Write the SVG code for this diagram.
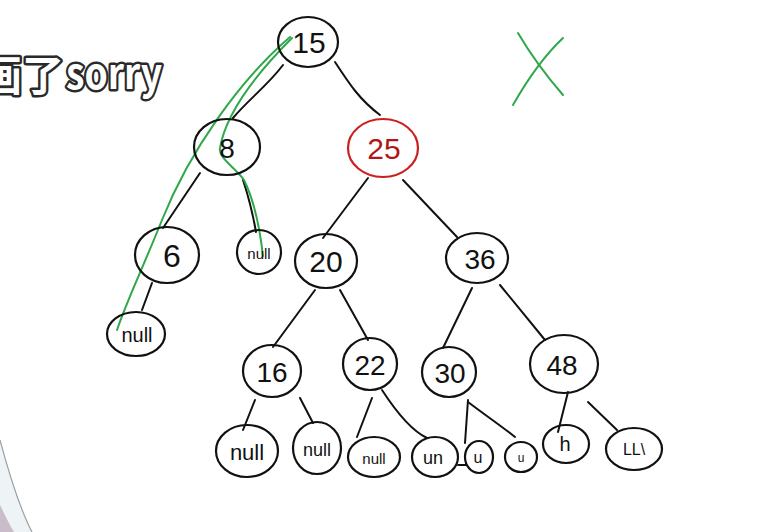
<svg xmlns="http://www.w3.org/2000/svg" width="783" height="532" viewBox="0 0 783 532">
<style>
.n{fill:none;stroke:#111;stroke-width:2.2}
.r{fill:none;stroke:#cc1f1f;stroke-width:2.2}
.e{fill:none;stroke:#111;stroke-width:2;stroke-linecap:round}
.g{fill:none;stroke:#2fa84a;stroke-width:2;stroke-linecap:round}
.t{font-family:"Liberation Sans","DejaVu Sans",sans-serif;fill:#111;text-anchor:middle}
.tr{font-family:"Liberation Sans","DejaVu Sans",sans-serif;fill:#b01818;text-anchor:middle}
.cap{font-family:"Noto Sans CJK SC","Liberation Sans",sans-serif;font-weight:bold;font-size:42px;fill:#fff;stroke:#2a2a2a;stroke-width:5;stroke-linejoin:round;paint-order:stroke}
</style>
<rect width="783" height="532" fill="#fff"/>
<g id="corner">
<path d="M0,532 L0,440 C8,470 18,505 32,532 Z" fill="#eef3f5"/>
<path d="M0,440 C8,470 18,505 32,532" fill="none" stroke="#9aa0a4" stroke-width="1.2"/>
<path d="M0,505 C5,515 9,524 14,532 L0,532 Z" fill="#c9bccb"/>
</g>
<g id="caption">
<text class="cap" x="-20" y="91">画了</text>
<text class="cap" x="66" y="89" textLength="96" lengthAdjust="spacingAndGlyphs">sorry</text>
</g>
<g id="connectors">
<path class="e" d="M283,65 C268,85 248,100 233,118"/>
<path class="e" d="M335,62 C350,85 360,100 380,115"/>
<path class="e" d="M200,173 L163,228"/>
<path class="e" d="M243,180 C248,195 253,215 256,232"/>
<path class="e" d="M152,283 L142,310"/>
<path class="e" d="M368,178 L323,238"/>
<path class="e" d="M403,180 L457,237"/>
<path class="e" d="M315,290 L273,347"/>
<path class="e" d="M340,290 L368,340"/>
<path class="e" d="M472,288 L443,348"/>
<path class="e" d="M500,285 L545,340"/>
<path class="e" d="M255,400 L243,430"/>
<path class="e" d="M300,398 L313,423"/>
<path class="e" d="M372,398 L357,437"/>
<path class="e" d="M382,390 C395,410 410,430 427,438"/>
<path class="e" d="M468,400 L465,443"/>
<path class="e" d="M468,402 C485,415 500,425 515,437"/>
<path class="e" d="M568,392 L558,432"/>
<path class="e" d="M588,402 L617,430"/>
<path class="e" d="M458,465 L466,465"/>
</g>
<g id="annotations">
<path class="g" d="M290,37 C240,80 190,150 162,220 C142,270 127,300 117,330"/>
<path class="g" d="M292,38 C258,72 226,112 220,148 C218,158 236,168 244,180 C254,200 260,230 263,256"/>
<path class="g" d="M518,33 C535,62 550,80 563,95"/>
<path class="g" d="M563,38 C545,55 530,75 513,105"/>
</g>
<g id="n15"><ellipse class="n" cx="308" cy="42" rx="30" ry="25"/><text class="t" x="309" y="53" font-size="30">15</text></g>
<g id="n8"><ellipse class="n" cx="227" cy="147" rx="33" ry="28"/><text class="t" x="227" y="158" font-size="28">8</text></g>
<g id="n25"><ellipse class="r" cx="383" cy="148" rx="35" ry="29"/><text class="tr" x="384" y="159" font-size="30">25</text></g>
<g id="n6"><ellipse class="n" cx="167" cy="255" rx="32" ry="28"/><text class="t" x="172" y="267" font-size="32">6</text></g>
<g id="n8null"><ellipse class="n" cx="259" cy="252" rx="22" ry="22"/><text class="t" x="259" y="259" font-size="15">null</text></g>
<g id="n6null"><ellipse class="n" cx="136" cy="334" rx="29" ry="22"/><text class="t" x="137" y="342" font-size="20">null</text></g>
<g id="n20"><ellipse class="n" cx="326" cy="261" rx="31" ry="27"/><text class="t" x="326" y="272" font-size="30">20</text></g>
<g id="n36"><ellipse class="n" cx="477" cy="258" rx="31" ry="25"/><text class="t" x="480" y="269" font-size="28">36</text></g>
<g id="n16"><ellipse class="n" cx="272" cy="371" rx="29" ry="26"/><text class="t" x="272" y="382" font-size="28">16</text></g>
<g id="n22"><ellipse class="n" cx="370" cy="364" rx="27" ry="26"/><text class="t" x="370" y="375" font-size="28">22</text></g>
<g id="n30"><ellipse class="n" cx="449" cy="372" rx="27" ry="25"/><text class="t" x="450" y="383" font-size="28">30</text></g>
<g id="n48"><ellipse class="n" cx="564" cy="364" rx="34" ry="29"/><text class="t" x="562" y="375" font-size="28">48</text></g>
<g id="b1"><ellipse class="n" cx="247" cy="451" rx="31" ry="26"/><text class="t" x="247" y="460" font-size="22">null</text></g>
<g id="b2"><ellipse class="n" cx="317" cy="448" rx="24" ry="26"/><text class="t" x="317" y="456" font-size="18">null</text></g>
<g id="b3"><ellipse class="n" cx="374" cy="457" rx="26" ry="20"/><text class="t" x="374" y="464" font-size="15">null</text></g>
<g id="b4"><ellipse class="n" cx="435" cy="457" rx="23" ry="20"/><text class="t" x="433" y="464" font-size="18">un</text></g>
<g id="b5"><ellipse class="n" cx="479" cy="457" rx="14" ry="16"/><text class="t" x="478" y="463" font-size="16">u</text></g>
<g id="b6"><ellipse class="n" cx="521" cy="457" rx="16" ry="15"/><text class="t" x="521" y="462" font-size="12">u</text></g>
<g id="b7"><ellipse class="n" cx="566" cy="444" rx="23" ry="19"/><text class="t" x="565" y="451" font-size="20">h</text></g>
<g id="b8"><ellipse class="n" cx="634" cy="449" rx="28" ry="21"/><text class="t" x="634" y="455" font-size="16">LL\</text></g>
</svg>
